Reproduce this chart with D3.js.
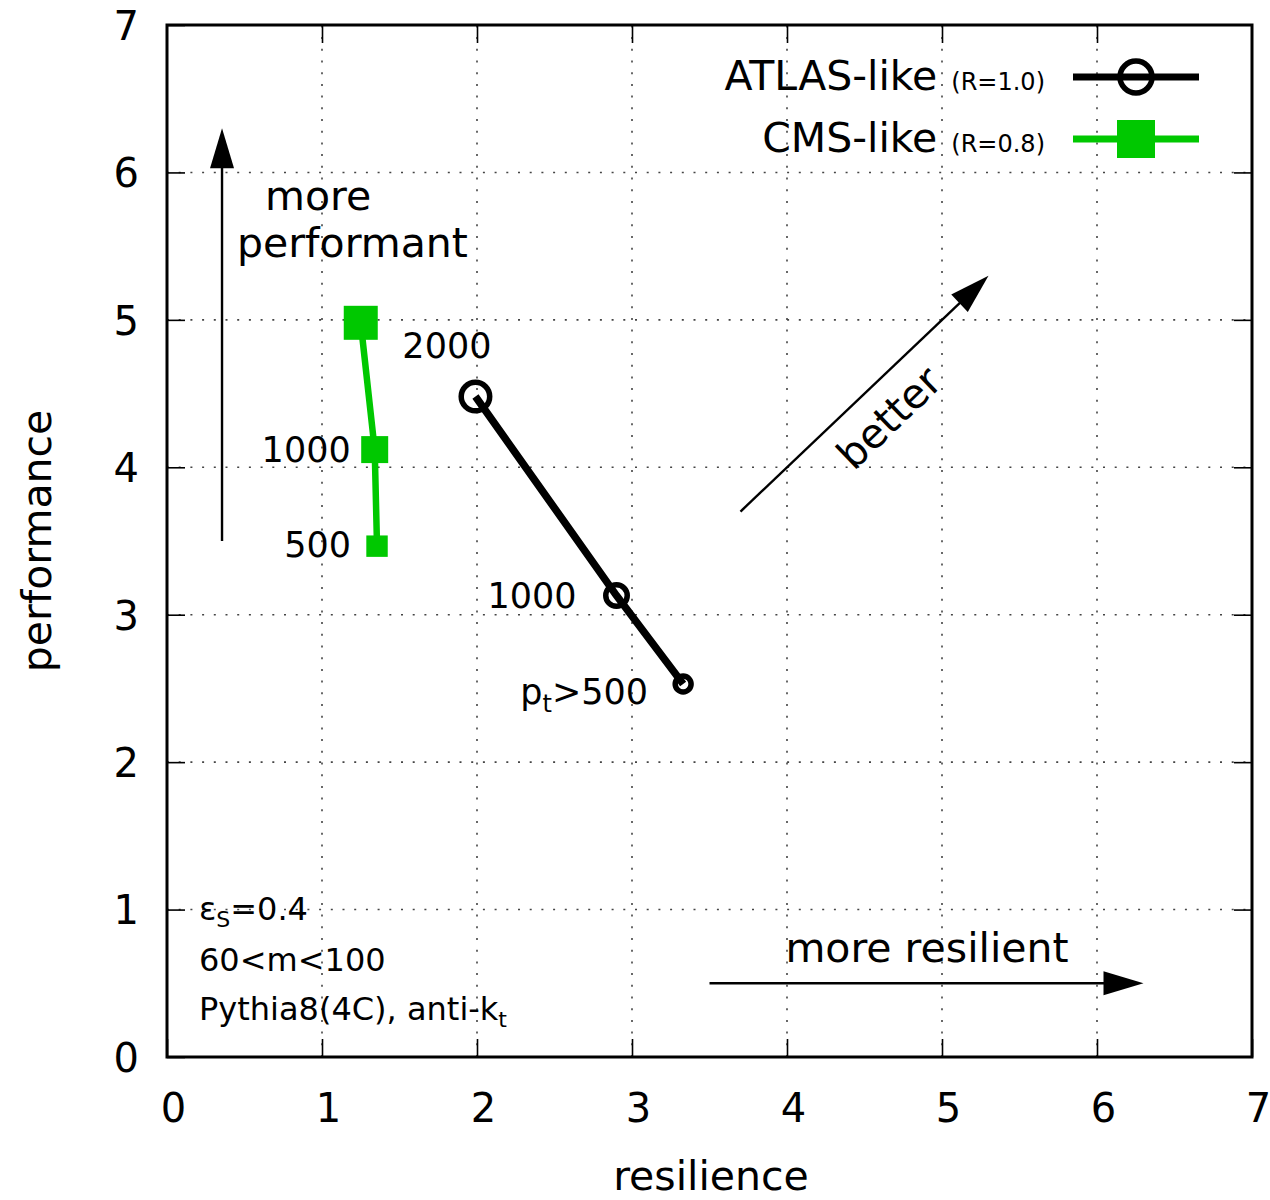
<!DOCTYPE html>
<html>
<head>
<meta charset="utf-8">
<script src="https://cdn.jsdelivr.net/npm/d3@7"></script>
<style>
  body { margin: 0; background: #fff; }
  text { font-family: "DejaVu Sans", sans-serif; fill: #000; }
</style>
</head>
<body>
<svg id="chart" width="1270" height="1200"></svg>
<script>
// ---- data ----
const ptCuts = [2000, 1000, 500];                 // jet pt thresholds (GeV)
const atlasResilience  = [1.99, 2.90, 3.33];
const atlasPerformance = [4.48, 3.13, 2.53];
const atlasLabels = ["2000", "1000", "p_t>500"];
const cmsResilience  = [1.25, 1.34, 1.355];
const cmsPerformance = [4.98, 4.12, 3.465];
const cmsLabels = [null, "1000", "500"];
const xTicks = [0, 1, 2, 3, 4, 5, 6, 7];
const yTicks = [0, 1, 2, 3, 4, 5, 6, 7];
const seriesNames = ["ATLAS-like", "CMS-like"];
const seriesRadii = ["(R=1.0)", "(R=0.8)"];

// ---- layout ----
const svg = d3.select("#chart");
const X0 = 167, X1 = 1252, Y0 = 1057, Y1 = 25;
const x = d3.scaleLinear().domain([0, 7]).range([X0, X1]);
const y = d3.scaleLinear().domain([0, 7]).range([Y0, Y1]);
const markerSize = d3.scalePow().exponent(1 / 3).domain([0, 2000]).range([0, 34]);
const GREEN = "#00c800";
const FS = 41;

// dotted grid
const grid = svg.append("g").attr("stroke", "#444").attr("stroke-width", 1.6)
  .attr("stroke-dasharray", "2,9.7");
xTicks.filter(v => v > 0 && v < 7).forEach(v => {
  grid.append("line").attr("x1", x(v)).attr("x2", x(v)).attr("y1", y(0)).attr("y2", y(7));
});
yTicks.filter(v => v > 0 && v < 7).forEach(v => {
  grid.append("line").attr("y1", y(v)).attr("y2", y(v)).attr("x1", x(0)).attr("x2", x(7));
});

// axes with inward ticks, mirrored on top/right
function styleAxis(g) {
  g.select(".domain").remove();
  g.selectAll(".tick line").attr("stroke", "#000").attr("stroke-width", 1.6);
  g.selectAll(".tick text").attr("font-size", 40).attr("font-family", "DejaVu Sans").attr("fill", "#000");
}
svg.append("g").attr("transform", `translate(0,${Y0})`)
  .call(d3.axisBottom(x).tickValues(xTicks).tickFormat(d3.format("d")).tickSizeInner(-18).tickSizeOuter(0).tickPadding(37))
  .call(styleAxis)
  .call(g => g.selectAll(".tick text").attr("dx", 6));
svg.append("g").attr("transform", `translate(${X0},0)`)
  .call(d3.axisLeft(y).tickValues(yTicks).tickFormat(d3.format("d")).tickSizeInner(-18).tickSizeOuter(0).tickPadding(28))
  .call(styleAxis)
  .call(g => g.selectAll(".tick text").attr("dy", "0.36em"));
svg.append("g").attr("transform", `translate(0,${Y1})`)
  .call(d3.axisTop(x).tickValues(xTicks.slice(1, -1)).tickFormat("").tickSizeInner(-18).tickSizeOuter(0))
  .call(styleAxis);
svg.append("g").attr("transform", `translate(${X1},0)`)
  .call(d3.axisRight(y).tickValues(yTicks.slice(1, -1)).tickFormat("").tickSizeInner(-18).tickSizeOuter(0))
  .call(styleAxis);

// frame
svg.append("rect").attr("x", X0).attr("y", Y1).attr("width", X1 - X0).attr("height", Y0 - Y1)
  .attr("fill", "none").attr("stroke", "#000").attr("stroke-width", 3);

// axis titles
svg.append("text").attr("x", 711).attr("y", 1190).attr("text-anchor", "middle")
  .attr("font-size", FS).text("resilience");
svg.append("text").attr("transform", "translate(51,541) rotate(-90)").attr("text-anchor", "middle")
  .attr("font-size", FS).text("performance");

// arrows
function arrow(xa, ya, xb, yb) {
  const p0 = [x(xa), y(ya)], p1 = [x(xb), y(yb)];
  const dx = p1[0] - p0[0], dy = p1[1] - p0[1], L = Math.hypot(dx, dy);
  const ux = dx / L, uy = dy / L, len = 40, hw = 12;
  const bx = p1[0] - ux * len, by = p1[1] - uy * len;
  svg.append("line").attr("x1", p0[0]).attr("y1", p0[1]).attr("x2", bx + ux * 2).attr("y2", by + uy * 2)
    .attr("stroke", "#000").attr("stroke-width", 2.4);
  svg.append("path")
    .attr("d", `M${p1[0]},${p1[1]} L${bx - uy * hw},${by + ux * hw} L${bx + uy * hw},${by - ux * hw} Z`)
    .attr("fill", "#000");
}
arrow(0.355, 3.5, 0.355, 6.3);
arrow(3.7, 3.7, 5.3, 5.3);
arrow(3.5, 0.5, 6.3, 0.5);

svg.append("text").attr("x", 265).attr("y", 210).attr("font-size", FS).text("more");
svg.append("text").attr("x", 237).attr("y", 257).attr("font-size", FS).text("performant");
svg.append("text").attr("x", 927).attr("y", 962).attr("text-anchor", "middle").attr("font-size", FS).text("more resilient");
svg.append("text").attr("transform", "translate(899,428) rotate(-44)").attr("text-anchor", "middle")
  .attr("font-size", FS).text("better");

// settings note
const note = svg.append("g").attr("font-size", 32);
const n1 = note.append("text").attr("x", 199).attr("y", 920);
n1.append("tspan").text("ε");
n1.append("tspan").attr("font-size", 22).attr("dy", 7).text("S");
n1.append("tspan").attr("dy", -7).text("=0.4");
note.append("text").attr("x", 199).attr("y", 971).text("60<m<100");
const n3 = note.append("text").attr("x", 199).attr("y", 1020);
n3.append("tspan").text("Pythia8(4C), anti-k");
n3.append("tspan").attr("font-size", 22).attr("dy", 7).text("t");

// series
const lineGen = d3.line().x(d => x(d.r)).y(d => y(d.p));
const atlas = ptCuts.map((pt, i) => ({ pt, r: atlasResilience[i], p: atlasPerformance[i], label: atlasLabels[i] }));
const cms = ptCuts.map((pt, i) => ({ pt, r: cmsResilience[i], p: cmsPerformance[i], label: cmsLabels[i] }));

svg.append("path").datum(cms).attr("d", lineGen).attr("fill", "none")
  .attr("stroke", GREEN).attr("stroke-width", 6.5);
svg.selectAll(".cms").data(cms).join("rect").attr("class", "cms")
  .attr("x", d => x(d.r) - markerSize(d.pt) / 2).attr("y", d => y(d.p) - markerSize(d.pt) / 2)
  .attr("width", d => markerSize(d.pt)).attr("height", d => markerSize(d.pt)).attr("fill", GREEN);

svg.append("path").datum(atlas).attr("d", lineGen).attr("fill", "none")
  .attr("stroke", "#000").attr("stroke-width", 7.5);
svg.selectAll(".atlas").data(atlas).join("circle").attr("class", "atlas")
  .attr("cx", d => x(d.r)).attr("cy", d => y(d.p)).attr("r", d => (markerSize(d.pt) - 5.5) / 2)
  .attr("fill", "none").attr("stroke", "#000").attr("stroke-width", 5.5);

// point labels (text-end offsets from the marker centre, in px)
function pointLabel(d, off) {
  if (!d.label) return;
  const t = svg.append("text").attr("x", x(d.r) + off[0]).attr("y", y(d.p) + off[1])
    .attr("text-anchor", "end").attr("font-size", 35);
  const parts = d.label.split("_");
  if (parts.length === 1) { t.text(d.label); return; }
  t.append("tspan").text(parts[0]);
  t.append("tspan").attr("font-size", 24).attr("dy", 8).text(parts[1][0]);
  t.append("tspan").attr("dy", -8).text(parts[1].slice(1));
}
const atlasOffsets = [[16, -39], [-40, 12], [-35, 20]];
const cmsOffsets = [[0, 0], [-24, 12], [-26, 11]];
atlas.forEach((d, i) => pointLabel(d, atlasOffsets[i]));
cms.forEach((d, i) => pointLabel(d, cmsOffsets[i]));

// legend
const legY = [77, 139];
seriesNames.forEach((name, i) => {
  const t = svg.append("text").attr("x", 1045).attr("y", legY[i] + 13).attr("text-anchor", "end").attr("font-size", FS);
  t.append("tspan").text(name);
  t.append("tspan").attr("dx", 14).attr("font-size", 24).text(seriesRadii[i]);
});
svg.append("line").attr("x1", 1073).attr("x2", 1199).attr("y1", legY[0]).attr("y2", legY[0])
  .attr("stroke", "#000").attr("stroke-width", 7);
svg.append("circle").attr("cx", 1136).attr("cy", legY[0]).attr("r", 16)
  .attr("fill", "none").attr("stroke", "#000").attr("stroke-width", 5.5);
svg.append("line").attr("x1", 1073).attr("x2", 1199).attr("y1", legY[1]).attr("y2", legY[1])
  .attr("stroke", GREEN).attr("stroke-width", 7);
svg.append("rect").attr("x", 1136 - 19).attr("y", legY[1] - 19).attr("width", 38).attr("height", 38)
  .attr("fill", GREEN);
</script>
</body>
</html>
